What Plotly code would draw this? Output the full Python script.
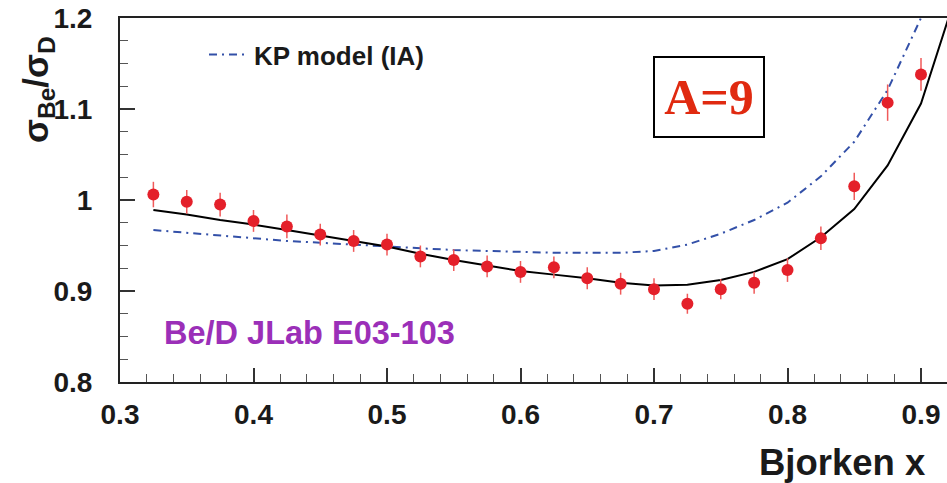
import plotly.graph_objects as go

# Data
x_data = [0.325, 0.35, 0.375, 0.40, 0.425, 0.45, 0.475, 0.50, 0.525, 0.55, 0.575, 0.60,
          0.625, 0.65, 0.675, 0.70, 0.725, 0.75, 0.775, 0.80, 0.825, 0.85, 0.875, 0.90]
y_data = [1.006, 0.998, 0.995, 0.977, 0.971, 0.962, 0.955, 0.951, 0.938, 0.934, 0.927, 0.921,
          0.926, 0.914, 0.908, 0.902, 0.886, 0.902, 0.909, 0.923, 0.958, 1.015, 1.107, 1.138]
y_err = [0.014, 0.013, 0.013, 0.012, 0.013, 0.012, 0.012, 0.012, 0.012, 0.012, 0.012, 0.012,
         0.012, 0.012, 0.012, 0.012, 0.011, 0.011, 0.012, 0.013, 0.013, 0.015, 0.020, 0.018]

x_model = [0.325, 0.35, 0.375, 0.40, 0.425, 0.45, 0.475, 0.50, 0.525, 0.55, 0.575, 0.60,
           0.625, 0.65, 0.675, 0.70, 0.725, 0.75, 0.775, 0.80, 0.825, 0.85, 0.875, 0.90, 0.925]
y_model = [0.989, 0.984, 0.978, 0.973, 0.967, 0.961, 0.955, 0.949, 0.941, 0.934, 0.928, 0.922,
           0.918, 0.914, 0.909, 0.906, 0.907, 0.912, 0.921, 0.935, 0.959, 0.990, 1.038, 1.106, 1.22]

x_kp = [0.325, 0.35, 0.375, 0.40, 0.425, 0.45, 0.475, 0.50, 0.525, 0.55, 0.575, 0.60,
        0.625, 0.65, 0.675, 0.70, 0.725, 0.75, 0.775, 0.80, 0.825, 0.85, 0.875, 0.90]
y_kp = [0.967, 0.964, 0.961, 0.958, 0.955, 0.953, 0.951, 0.949, 0.947, 0.945, 0.944, 0.943,
        0.942, 0.942, 0.942, 0.944, 0.951, 0.963, 0.978, 0.997, 1.026, 1.064, 1.121, 1.20]

x_ticks = [0.3, 0.4, 0.5, 0.6, 0.7, 0.8, 0.9]
y_ticks = [0.8, 0.9, 1.0, 1.1, 1.2]

FONT = "Liberation Sans"

fig = go.Figure()
fig.add_trace(go.Scatter(
    x=x_kp, y=y_kp, mode="lines", name="KP model (IA)",
    line=dict(color="#3350a8", width=2, dash="8px,5px,2px,5px"),
    showlegend=True))
fig.add_trace(go.Scatter(
    x=x_model, y=y_model, mode="lines", name="model",
    line=dict(color="black", width=2), showlegend=False))
fig.add_trace(go.Scatter(
    x=x_data, y=y_data, mode="markers", name="Be/D JLab E03-103",
    marker=dict(color="#e4202a", size=12),
    error_y=dict(type="data", array=y_err, color="#f05a5a", thickness=1.5, width=0),
    showlegend=False))

W, H = 947, 483
L, R, T, B = 120, 0, 18, 101
pw, ph = W - L - R, H - T - B
x0, x1 = 0.3, 0.3 + pw / 1335.0
y0, y1 = 0.8, 1.2

def px(xp):
    return (xp - L) / pw

def py(yp):
    return (H - B - yp) / ph

fig.update_layout(
    width=W, height=H,
    margin=dict(l=L, r=R, t=T, b=B, pad=0),
    paper_bgcolor="white", plot_bgcolor="white",
    font=dict(family=FONT, color="#1a1a1a"),
    showlegend=True,
    legend=dict(x=px(204), y=py(31), xanchor="left", yanchor="top",
                bgcolor="rgba(0,0,0,0)", font=dict(size=26, weight="bold", family=FONT, color="#1a1a1a"),
                itemwidth=40),
    xaxis=dict(range=[x0, x1], tickvals=x_ticks, ticktext=[f"{v:.1f}" for v in x_ticks],
               showgrid=False, zeroline=False, showline=True, linecolor="#222", linewidth=2,
               mirror=True, ticks="inside", ticklen=14, tickwidth=1.5, tickcolor="#333",
               tickfont=dict(size=28, weight="bold", family=FONT, color="#1a1a1a"),
               ticklabelstandoff=6,
               minor=dict(dtick=0.02, ticks="inside", ticklen=8, tickwidth=1, tickcolor="#555",
                          showgrid=False, tick0=0.3)),
    yaxis=dict(range=[y0, y1], tickvals=y_ticks, ticktext=["0.8", "0.9", "1", "1.1", "1.2"],
               showgrid=False, zeroline=False, showline=True, linecolor="#222", linewidth=2,
               ticks="inside", ticklen=15, tickwidth=1.5, tickcolor="#333",
               tickfont=dict(size=28, weight="bold", family=FONT, color="#1a1a1a"),
               ticklabelstandoff=20,
               minor=dict(dtick=0.025, ticks="inside", ticklen=8, tickwidth=1, tickcolor="#555",
                          showgrid=False, tick0=0.8)),
    annotations=[
        dict(text="σ<sub>Be</sub>/σ<sub>D</sub>", textangle=-90, xref="paper", yref="paper",
             x=px(38), y=py(90), xanchor="center", yanchor="middle", showarrow=False,
             font=dict(size=35, weight="bold", family=FONT, color="#1a1a1a")),
        dict(text="Bjorken x", xref="paper", yref="paper", x=px(928), y=py(462),
             xanchor="right", yanchor="middle", showarrow=False,
             font=dict(size=36.5, weight="bold", family=FONT, color="#1a1a1a")),
        dict(text="Be/D JLab E03-103", xref="paper", yref="paper", x=px(162), y=py(333),
             xanchor="left", yanchor="middle", showarrow=False,
             font=dict(size=32.5, weight="bold", family=FONT, color="#9b2fb8")),
        dict(text="A=9", xref="paper", yref="paper", x=px(709), y=py(97),
             xanchor="center", yanchor="middle", showarrow=False,
             width=108, height=78, align="center", valign="middle",
             bordercolor="black", borderwidth=2, borderpad=0, bgcolor="white",
             font=dict(size=50, weight="bold", family="Liberation Serif", color="#e02a10")),
    ],
)

fig.write_html("out.html")
